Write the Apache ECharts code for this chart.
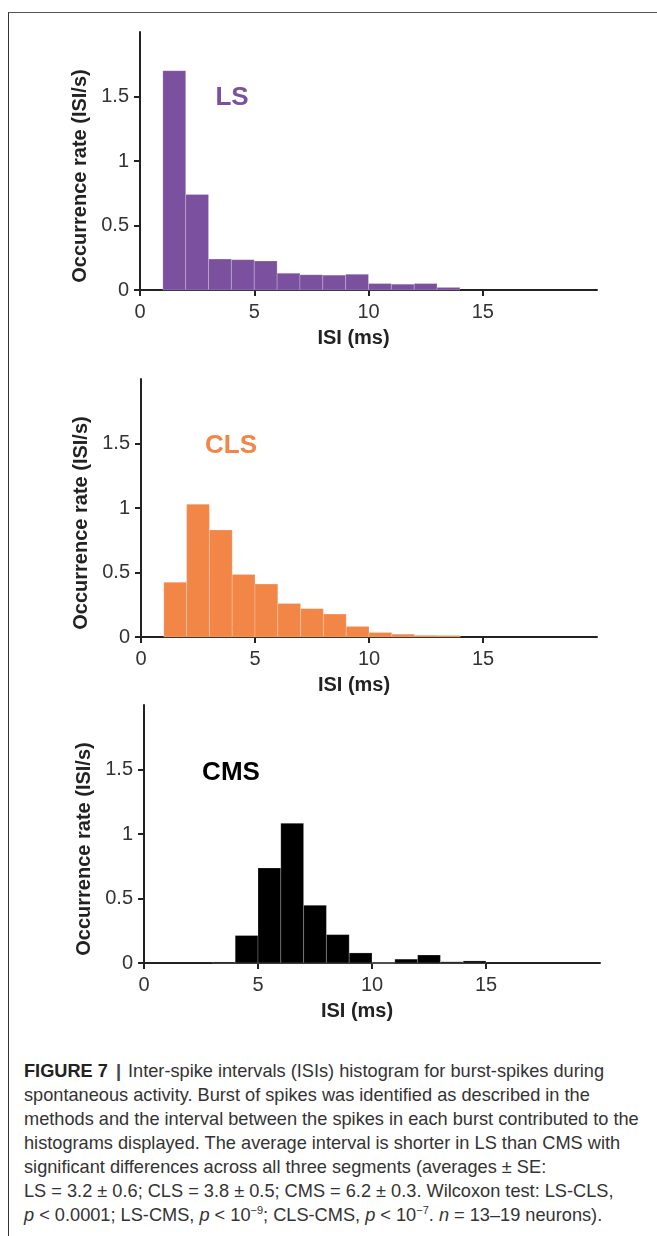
<!DOCTYPE html>
<html>
<head>
<meta charset="utf-8">
<script src="https://cdn.jsdelivr.net/npm/echarts@6/dist/echarts.min.js"></script>
<style>
  html, body { margin: 0; padding: 0; background: #fff; }
  #wrap { position: relative; width: 657px; height: 1236px; overflow: hidden; }
  #frame { position: absolute; left: 8px; top: 12px; right: -2px; bottom: -2px;
           border-top: 1px solid #555; border-left: 1px solid #333; }
  #chart { position: absolute; left: 0; top: 0; width: 657px; height: 1050px; }
  #caption { position: absolute; left: 24px; top: 1059px; white-space: nowrap;
             font-family: "Liberation Sans", Arial, sans-serif;
             font-size: 18.2px; line-height: 24px; color: #333; }
  #caption b { color: #222; }
  #caption .bar { display: inline-block; margin: 0 7px 0 8px; color: #444; }
  #caption sup { font-size: 11px; line-height: 0; }
</style>
</head>
<body>
<div id="wrap">
  <div id="frame"></div>
  <div id="chart"></div>
  <div id="caption">
    <b>FIGURE 7</b><b class="bar">|</b>Inter-spike intervals (ISIs) histogram for burst-spikes during<br>
    spontaneous activity. Burst of spikes was identified as described in the<br>
    methods and the interval between the spikes in each burst contributed to the<br>
    histograms displayed. The average interval is shorter in LS than CMS with<br>
    significant differences across all three segments (averages ± SE:<br>
    LS = 3.2 ± 0.6; CLS = 3.8 ± 0.5; CMS = 6.2 ± 0.3. Wilcoxon test: LS-CLS,<br>
    <i>p</i> &lt; 0.0001; LS-CMS, <i>p</i> &lt; 10<sup>−9</sup>; CLS-CMS, <i>p</i> &lt; 10<sup>−7</sup>. <i>n</i> = 13–19 neurons).
  </div>
</div>
<script>
// tick labels
const isiTicks = [0, 5, 10, 15];
const rateTicks = [0, 0.5, 1, 1.5];

// histogram bins (left edge, width 1 ms) and occurrence rates
const lsBins = [1, 2, 3, 4, 5, 6, 7, 8, 9, 10, 11, 12, 13];
const lsRate = [1.70, 0.74, 0.24, 0.235, 0.225, 0.13, 0.118, 0.115, 0.122, 0.05, 0.045, 0.05, 0.02];

const clsBins = [1, 2, 3, 4, 5, 6, 7, 8, 9, 10, 11, 12, 13];
const clsRate = [0.425, 1.03, 0.83, 0.485, 0.41, 0.26, 0.22, 0.178, 0.082, 0.035, 0.022, 0.013, 0.012];

const cmsBins = [3, 4, 5, 6, 7, 8, 9, 10, 11, 12, 13, 14];
const cmsRate = [0.008, 0.213, 0.737, 1.083, 0.447, 0.22, 0.078, 0, 0.03, 0.062, 0.009, 0.016];

const binWidth = 1;

const panels = [
  { name: "LS", color: "#7b509e", bins: lsBins, rate: lsRate, grid: { left: 140, top: 32, width: 457, height: 258 }, label: [232, 98] },
  { name: "CLS", color: "#f28646", bins: clsBins, rate: clsRate, grid: { left: 141, top: 379, width: 456, height: 258 }, label: [231, 446] },
  { name: "CMS", color: "#000000", bins: cmsBins, rate: cmsRate, grid: { left: 144, top: 705, width: 456, height: 258 }, label: [231, 773] },
];

const axisColor = "#222";
const textColor = "#333";
const font = "Liberation Sans";

const chart = echarts.init(document.getElementById("chart"), null, { renderer: "canvas" });

const option = {
  animation: false,
  grid: panels.map((p) => p.grid),
  xAxis: panels.map((p, i) => ({
    type: "value",
    gridIndex: i,
    min: 0,
    max: 20,
    name: "ISI (ms)",
    nameLocation: "middle",
    nameGap: 38,
    nameTextStyle: { fontFamily: font, fontWeight: "bold", fontSize: 20, color: "#222", padding: [0, 30, 0, 0] },
    axisLine: { lineStyle: { color: axisColor, width: 2 } },
    axisTick: { customValues: isiTicks, length: 6, lineStyle: { color: axisColor, width: 2 } },
    axisLabel: { customValues: isiTicks, margin: 12, fontFamily: font, fontSize: 20, color: textColor },
    splitLine: { show: false },
  })),
  yAxis: panels.map((p, i) => ({
    type: "value",
    gridIndex: i,
    min: 0,
    max: 2,
    name: "Occurrence rate (ISI/s)",
    nameLocation: "middle",
    nameGap: 50,
    nameTextStyle: { fontFamily: font, fontWeight: "bold", fontSize: 20, color: "#222", padding: [0, 30, 0, 0] },
    axisLine: { show: true, lineStyle: { color: axisColor, width: 2 } },
    axisTick: { show: true, customValues: rateTicks, length: 6, lineStyle: { color: axisColor, width: 2 } },
    axisLabel: { customValues: rateTicks, margin: 11, fontFamily: font, fontSize: 20, color: textColor },
    splitLine: { show: false },
  })),
  series: panels.map((p, i) => ({
    type: "custom",
    name: p.name,
    xAxisIndex: i,
    yAxisIndex: i,
    data: p.bins.map((b, k) => [b, b + binWidth, p.rate[k]]),
    encode: { x: [0, 1], y: 2 },
    renderItem: function (params, api) {
      const topLeft = api.coord([api.value(0), api.value(2)]);
      const bottomRight = api.coord([api.value(1), 0]);
      return {
        type: "rect",
        shape: {
          x: topLeft[0],
          y: topLeft[1],
          width: bottomRight[0] - topLeft[0],
          height: bottomRight[1] - topLeft[1],
        },
        style: { fill: p.color, stroke: "rgba(255,255,255,0.22)", lineWidth: 1 },
      };
    },
    z: 1,
  })),
  graphic: panels.map((p) => ({
    type: "text",
    x: p.label[0],
    y: p.label[1],
    style: {
      text: p.name,
      fill: p.color,
      font: "bold 26px " + font,
      textAlign: "center",
      textVerticalAlign: "middle",
    },
  })),
};

chart.setOption(option);
</script>
</body>
</html>
